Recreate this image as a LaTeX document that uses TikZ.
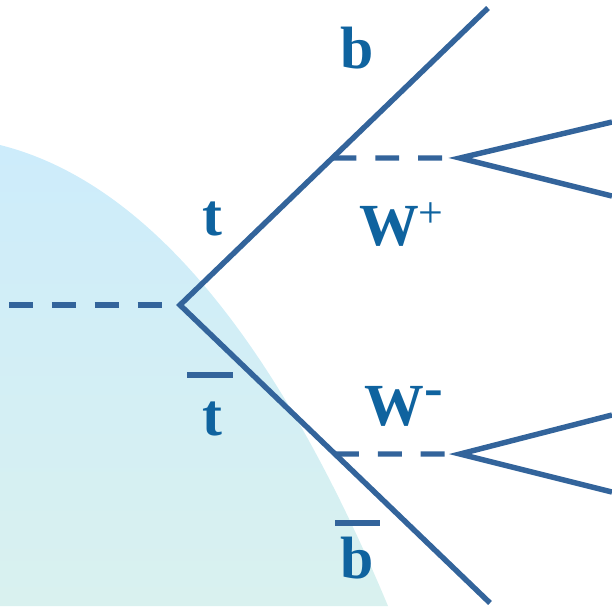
\documentclass[tikz,border=0pt]{standalone}
\usepackage{fontspec}
\setmainfont{Liberation Serif}
\usetikzlibrary{calc}
\definecolor{LineBlue}{HTML}{33649B}
\definecolor{TextBlue}{HTML}{0F639F}
\definecolor{SoftSky}{HTML}{CDECFB}
\definecolor{SoftTealBottom}{HTML}{D9F1EF}
\begin{document}
\begin{tikzpicture}[
x=0.02cm,y=-0.02cm,
particle/.style={draw=LineBlue,line width=3.1pt,line join=miter},
boson/.style={draw=LineBlue,line width=3.1pt,dash pattern=on 13.6pt off 10.8pt},
bar/.style={draw=LineBlue,line width=3.3pt},
lbl/.style={text=TextBlue,inner sep=0pt,anchor=base,font=\fontsize{34}{34}\selectfont\bfseries},
charge/.style={text=TextBlue,inner sep=0pt,font=\fontsize{25}{25}\selectfont}
]
\useasboundingbox (0,0) rectangle (612,606);
% background blob
\shade[top color=SoftSky,bottom color=SoftTealBottom] (0,145) .. controls (180,190) and (306,410) .. (388,606) -- (0,606) -- cycle;

% vertices and end points
\coordinate (v) at (180,305);
\coordinate (in) at (9,305);
\coordinate (bt) at (488,8);
\coordinate (bb) at (490,603);
\coordinate (wpv) at ($(v)!0.495!(bt)$);
\coordinate (wmv) at ($(v)!0.5!(bb)$);
\coordinate (wpf) at (460,158);
\coordinate (wmf) at (460,454);
\coordinate (wpu) at (612,122);
\coordinate (wpd) at (612,196);
\coordinate (wmu) at (612,415);
\coordinate (wmd) at (612,492);

% lines
\draw[boson] (in) -- (v);
\draw[particle] (bt) -- (v) -- (bb);
\draw[boson] (wpv) -- (wpf);
\draw[boson] (wmv) -- (wmf);
\draw[particle] (wpu) -- (wpf) -- (wpd);
\draw[particle] (wmu) -- (wmf) -- (wmd);

% labels
\node[lbl] (b) at (357.5,68) {b};
\node[lbl] (t) at (212,235) {t};
\node[lbl,anchor=base west] (wp) at (359,245) {W};
\node[charge] (wpc) at (431,215) {+};
\node[lbl] (tb) at (212,435) {t};
\node[lbl,anchor=base west] (wm) at (364,425) {W};
\node[charge,font=\fontsize{32}{32}\selectfont\bfseries] (wmc) at (434,399) {-};
\node[lbl] (bbar) at (357.5,578) {b};
\draw[bar] (187,375) -- (233,375);
\draw[bar] (335,523) -- (380,523);
\end{tikzpicture}
\end{document}
